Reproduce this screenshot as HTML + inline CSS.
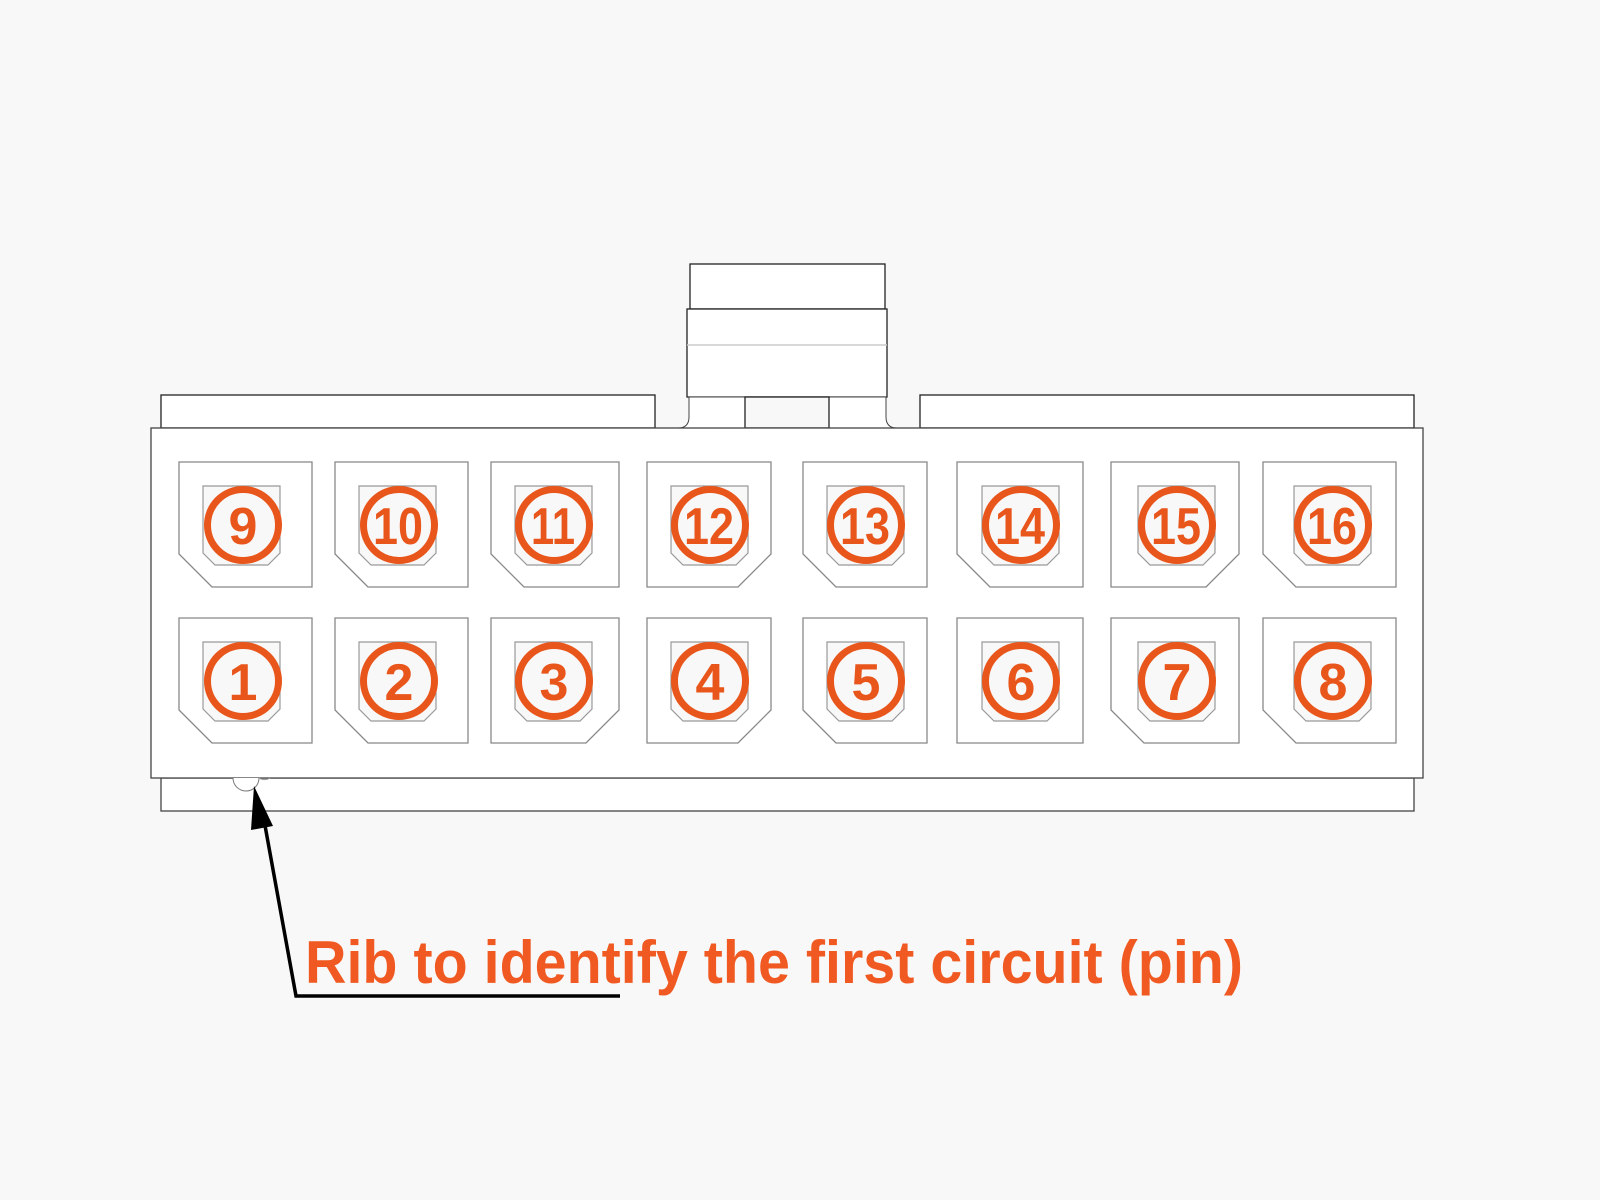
<!DOCTYPE html>
<html><head><meta charset="utf-8"><style>
html,body{margin:0;padding:0;background:#f8f8f8;}
svg{display:block;}
</style></head><body>
<svg width="1600" height="1200" viewBox="0 0 1600 1200" xmlns="http://www.w3.org/2000/svg">
<rect width="1600" height="1200" fill="#f8f8f8"/>
<rect x="161" y="395" width="494" height="33" fill="#fff" stroke="#222" stroke-width="1.3"/>
<rect x="920" y="395" width="494" height="33" fill="#fff" stroke="#222" stroke-width="1.3"/>
<rect x="690" y="264" width="195" height="45" fill="#fff" stroke="#222" stroke-width="1.3"/>
<rect x="687" y="309" width="200" height="88" fill="#fff" stroke="#222" stroke-width="1.3"/>
<line x1="687" y1="345" x2="887" y2="345" stroke="#ccc" stroke-width="1.5"/>
<path d="M655 428 L678 428 Q689 428 689 417 L689 397 L886 397 L886 417 Q886 428 897 428 L920 428" fill="#fff" stroke="#444" stroke-width="1"/>
<rect x="745" y="397" width="84" height="31" fill="#f8f8f8" stroke="#222" stroke-width="1.3"/>
<rect x="161" y="778" width="1253" height="33" fill="#fff" stroke="#444" stroke-width="1.3"/>
<rect x="151" y="428" width="1272" height="350" fill="#fff" stroke="#444" stroke-width="1.3"/>
<path d="M233 778 A13 13 0 0 0 259 778" fill="#fff" stroke="#777" stroke-width="1"/>
<path d="M259 778 A10 10 0 0 0 270 778" fill="none" stroke="#999" stroke-width="1"/>
<g stroke="#888" stroke-width="1.3">
<path d="M179 462 H312 V587 H212 L179 554 Z" fill="#fff"/>
<path d="M335 462 H468 V587 H368 L335 554 Z" fill="#fff"/>
<path d="M491 462 H619 V587 H524 L491 554 Z" fill="#fff"/>
<path d="M647 462 H771 V554 L738 587 H647 Z" fill="#fff"/>
<path d="M803 462 H927 V587 H836 L803 554 Z" fill="#fff"/>
<path d="M957 462 H1083 V587 H990 L957 554 Z" fill="#fff"/>
<path d="M1111 462 H1239 V554 L1206 587 H1111 Z" fill="#fff"/>
<path d="M1263 462 H1396 V587 H1296 L1263 554 Z" fill="#fff"/>
<path d="M179 618 H312 V743 H212 L179 710 Z" fill="#fff"/>
<path d="M335 618 H468 V743 H368 L335 710 Z" fill="#fff"/>
<path d="M491 618 H619 V710 L586 743 H491 Z" fill="#fff"/>
<path d="M647 618 H771 V710 L738 743 H647 Z" fill="#fff"/>
<path d="M803 618 H927 V743 H836 L803 710 Z" fill="#fff"/>
<path d="M957 618 H1083 V743 H957 Z" fill="#fff"/>
<path d="M1111 618 H1239 V743 H1144 L1111 710 Z" fill="#fff"/>
<path d="M1263 618 H1396 V743 H1296 L1263 710 Z" fill="#fff"/>
</g>
<g stroke="#999" stroke-width="1.2" fill="#f8f8f8">
<path d="M203 486 H280 V553 L268 565 H215 L203 553 Z"/>
<path d="M359 486 H436 V553 L424 565 H371 L359 553 Z"/>
<path d="M515 486 H592 V553 L580 565 H527 L515 553 Z"/>
<path d="M671 486 H748 V553 L736 565 H683 L671 553 Z"/>
<path d="M827 486 H904 V553 L892 565 H839 L827 553 Z"/>
<path d="M982 486 H1059 V553 L1047 565 H994 L982 553 Z"/>
<path d="M1138 486 H1215 V553 L1203 565 H1150 L1138 553 Z"/>
<path d="M1294 486 H1371 V553 L1359 565 H1306 L1294 553 Z"/>
<path d="M203 642 H280 V709 L268 721 H215 L203 709 Z"/>
<path d="M359 642 H436 V709 L424 721 H371 L359 709 Z"/>
<path d="M515 642 H592 V709 L580 721 H527 L515 709 Z"/>
<path d="M671 642 H748 V709 L736 721 H683 L671 709 Z"/>
<path d="M827 642 H904 V709 L892 721 H839 L827 709 Z"/>
<path d="M982 642 H1059 V709 L1047 721 H994 L982 709 Z"/>
<path d="M1138 642 H1215 V709 L1203 721 H1150 L1138 709 Z"/>
<path d="M1294 642 H1371 V709 L1359 721 H1306 L1294 709 Z"/>
</g>
<g fill="none" stroke="#e8561c" stroke-width="7">
<circle cx="243" cy="525" r="35.5"/><circle cx="399" cy="525" r="35.5"/><circle cx="554" cy="525" r="35.5"/><circle cx="710" cy="525" r="35.5"/>
<circle cx="866" cy="525" r="35.5"/><circle cx="1021" cy="525" r="35.5"/><circle cx="1177" cy="525" r="35.5"/><circle cx="1333" cy="525" r="35.5"/>
<circle cx="243" cy="681" r="35.5"/><circle cx="399" cy="681" r="35.5"/><circle cx="554" cy="681" r="35.5"/><circle cx="710" cy="681" r="35.5"/>
<circle cx="866" cy="681" r="35.5"/><circle cx="1021" cy="681" r="35.5"/><circle cx="1177" cy="681" r="35.5"/><circle cx="1333" cy="681" r="35.5"/>
</g>
<g font-family="Liberation Sans, sans-serif" font-size="52" font-weight="bold" fill="#e8561c" text-anchor="middle">
<text x="243" y="544">9</text>
<text x="398" y="544" textLength="50" lengthAdjust="spacingAndGlyphs">10</text>
<text x="553" y="544" textLength="44" lengthAdjust="spacingAndGlyphs">11</text>
<text x="709" y="544" textLength="50" lengthAdjust="spacingAndGlyphs">12</text>
<text x="865" y="544" textLength="50" lengthAdjust="spacingAndGlyphs">13</text>
<text x="1020" y="544" textLength="50" lengthAdjust="spacingAndGlyphs">14</text>
<text x="1176" y="544" textLength="50" lengthAdjust="spacingAndGlyphs">15</text>
<text x="1332" y="544" textLength="50" lengthAdjust="spacingAndGlyphs">16</text>
<text x="243" y="700">1</text><text x="399" y="700">2</text><text x="554" y="700">3</text><text x="710" y="700">4</text>
<text x="866" y="700">5</text><text x="1021" y="700">6</text><text x="1177" y="700">7</text><text x="1333" y="700">8</text>
</g>
<polyline points="264,820 296,996 620,996" fill="none" stroke="#000" stroke-width="3.5"/>
<polygon points="254,786 251,830 273,826" fill="#000"/>
<text x="305" y="983" font-family="Liberation Sans, sans-serif" font-weight="bold" font-size="60" fill="#f05a22" textLength="938" lengthAdjust="spacingAndGlyphs">Rib to identify the first circuit (pin)</text>
</svg>
</body></html>
